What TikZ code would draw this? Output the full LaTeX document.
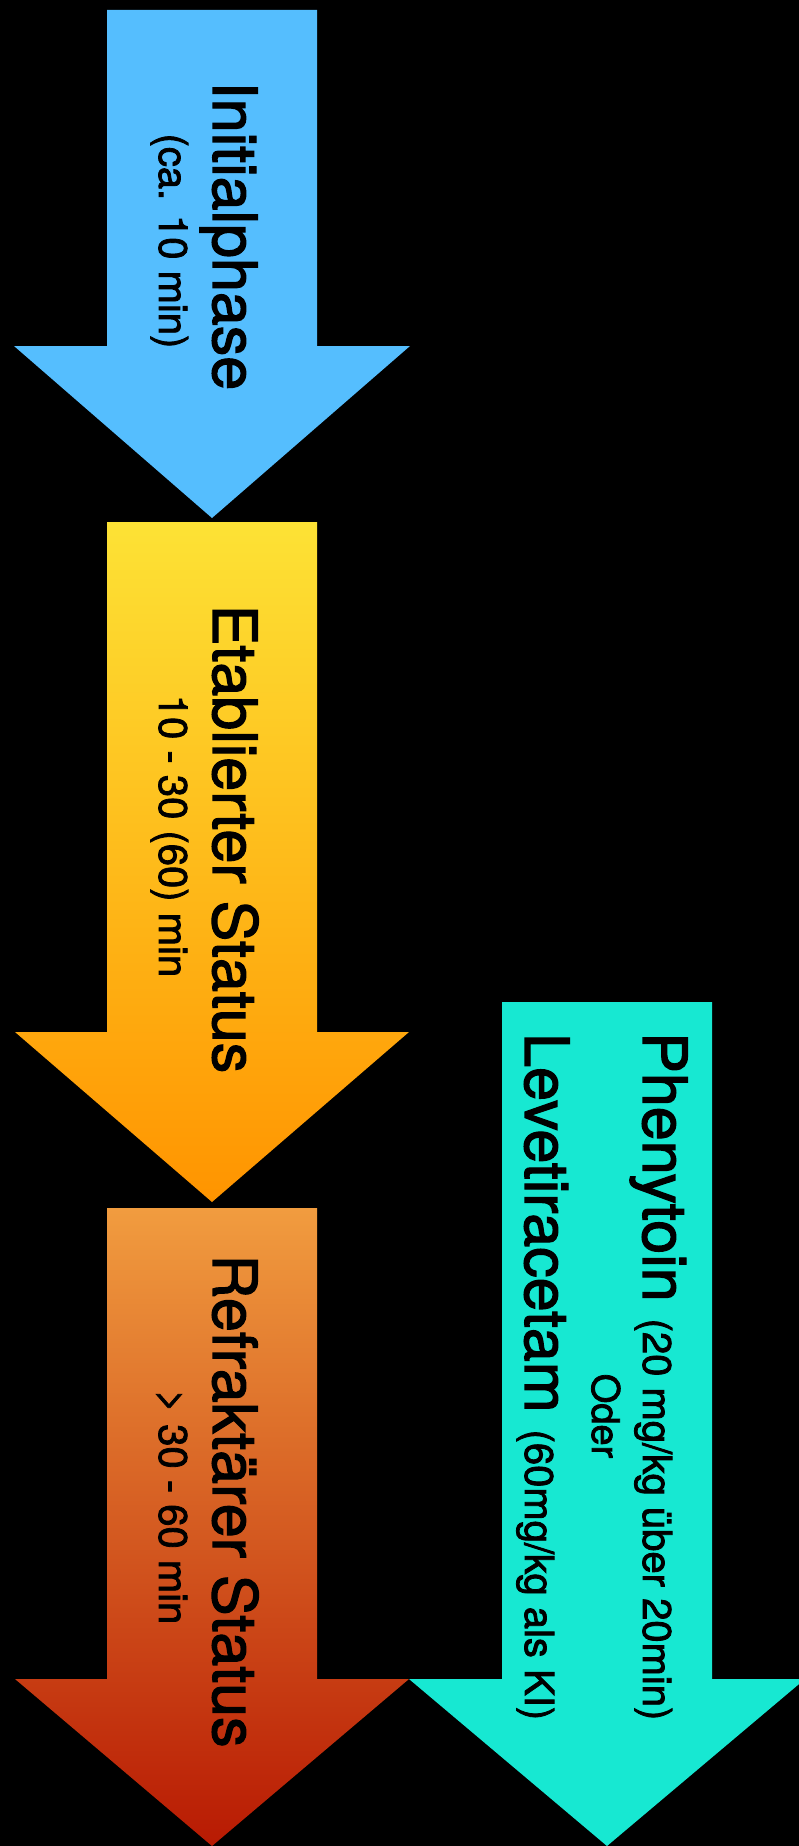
\documentclass[tikz,border=0pt]{standalone}
\usepackage{fontspec}
\setmainfont[FakeBold=2]{TeX Gyre Heros}
\definecolor{initblue}{HTML}{55BEFE}
\definecolor{etabtop}{HTML}{FDE235}
\definecolor{etabbottom}{HTML}{FF9400}
\definecolor{refrtop}{HTML}{F19C3F}
\definecolor{refrbottom}{HTML}{B81A03}
\definecolor{drugcyan}{HTML}{17E8D2}
\begin{document}
\begin{tikzpicture}
[
x=1pt,y=-1pt,
phase/.style={rotate=-90,anchor=base,inner sep=0pt,text=black,font=\fontsize{61}{61}\selectfont},
duration/.style={rotate=-90,anchor=base,inner sep=0pt,text=black,font=\fontsize{40}{40}\selectfont},
drug/.style={phase,anchor=base west},
]

%Background
\fill[black] (0,0) rectangle (799,1846);
\useasboundingbox (0,0) rectangle (799,1846);
\clip (0,0) rectangle (799,1846);

%Draw the arrows
\fill[initblue] (107,10) -- (317,10) -- (317,346) -- (410,346) -- (212,518) -- (14,346) -- (107,346) -- cycle;
\shade[top color=etabtop,bottom color=etabbottom] (107,522) -- (317,522) -- (317,1032) -- (409,1032) -- (212,1202) -- (15,1032) -- (107,1032) -- cycle;
\shade[top color=refrtop,bottom color=refrbottom] (107,1208) -- (317,1208) -- (317,1679) -- (409,1679) -- (212,1846) -- (15,1679) -- (107,1679) -- cycle;
\fill[drugcyan] (502,1002) -- (712,1002) -- (712,1679) -- (805,1679) -- (607,1846) -- (409,1679) -- (502,1679) -- cycle;

%Place the labels
\node[phase] (init) at (213,236) {Initialphase};
\node[duration] (initdur) at (159,241) {(ca. 10 min)};
\node[phase] (etab) at (213,839) {Etablierter Status};
\node[duration] (etabdur) at (159,836) {10 - 30 (60) min};
\node[phase] (refr) at (213,1501) {Refraktärer Status};
\node[duration] (refrdur) at (159,1507) {> 30 - 60 min};
\node[drug] (pheny) at (643,1032) {Phenytoin {\fontsize{40}{40}\selectfont (20 mg/kg über 20min)}};
\node[duration,font=\fontsize{38}{38}\selectfont] (oder) at (592,1416) {Oder};
\node[drug] (leve) at (525,1033) {Levetiracetam {\fontsize{40}{40}\selectfont (60mg/kg als KI)}};
\end{tikzpicture}
\end{document}
